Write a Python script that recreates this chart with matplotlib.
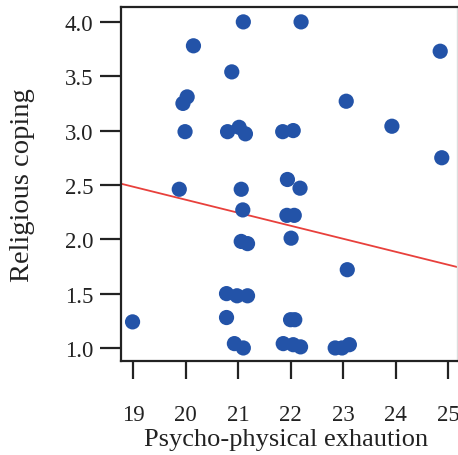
import matplotlib
matplotlib.use("Agg")
import matplotlib.pyplot as plt
import numpy as np

# Psycho-physical exhaustion scores vs. religious coping scores
exhaustion = [21.10, 20.15, 20.88, 20.03, 19.95, 19.99, 20.80, 21.02, 21.14,
              19.88, 21.06, 22.20, 24.85, 23.06, 21.85, 22.05, 23.93, 24.88,
              21.94, 22.18, 21.09, 21.06, 21.18, 20.78, 20.98, 21.18, 18.99,
              20.78, 20.93, 21.10, 21.93, 22.07, 22.01, 23.08, 22.00, 22.08,
              21.86, 22.05, 22.19, 22.85, 22.98, 23.12]
coping = [4.00, 3.78, 3.54, 3.31, 3.25, 2.99, 2.99, 3.03, 2.97,
          2.46, 2.46, 4.00, 3.73, 3.27, 2.99, 3.00, 3.04, 2.75,
          2.55, 2.47, 2.27, 1.98, 1.96, 1.50, 1.48, 1.48, 1.24,
          1.28, 1.04, 1.00, 2.22, 2.22, 2.01, 1.72, 1.26, 1.26,
          1.04, 1.03, 1.01, 1.00, 1.00, 1.03]

# Fitted linear trend
fit_intercept = 4.758
fit_slope = -0.1197

x_ticks = [19, 20, 21, 22, 23, 24, 25]
y_ticks = [1.0, 1.5, 2.0, 2.5, 3.0, 3.5, 4.0]
y_tick_labels = ["1.0", "1.5", "2.0", "2.5", "3.0", "3.5", "4.0"]

plt.rcParams["font.family"] = ["Liberation Serif", "DejaVu Serif"]

W, H = 458, 456
fig = plt.figure(figsize=(W / 100, H / 100), dpi=100)
ax = fig.add_axes([121 / W, (H - 362) / H, (457 - 121) / W, (362 - 8) / H])

ax.scatter(exhaustion, coping, s=120, color="#2353a8", edgecolors="none", zorder=3)

xlim = (18.77, 25.17)
xs = np.array(xlim)
ax.plot(xs, fit_intercept + fit_slope * xs, color="#e8403c", lw=1.3, zorder=2)

ax.set_xlim(*xlim)
ax.set_ylim(0.88, 4.137)
ax.set_xticks(x_ticks)
ax.set_yticks(y_ticks)
ax.set_yticklabels(y_tick_labels)

for side in ["left", "top", "bottom"]:
    ax.spines[side].set_linewidth(1.6)
    ax.spines[side].set_color("#222222")
ax.spines["right"].set_linewidth(1.0)
ax.spines["right"].set_color("#dddddd")

ax.tick_params(axis="x", direction="out", length=13, width=1.6, pad=18,
               labelsize=16.5, colors="#222222")
ax.tick_params(axis="y", direction="out", length=15, width=1.6, pad=5,
               labelsize=16.5, colors="#222222")

ax.set_xlabel("Psycho-physical exhaution", fontsize=19, color="#222222")
ax.set_ylabel("Religious coping", fontsize=20.5, color="#222222")
ax.xaxis.set_label_coords(0.49, -0.19)
ax.yaxis.set_label_coords(-0.256, 0.5)

fig.savefig("out.png", dpi=100)
